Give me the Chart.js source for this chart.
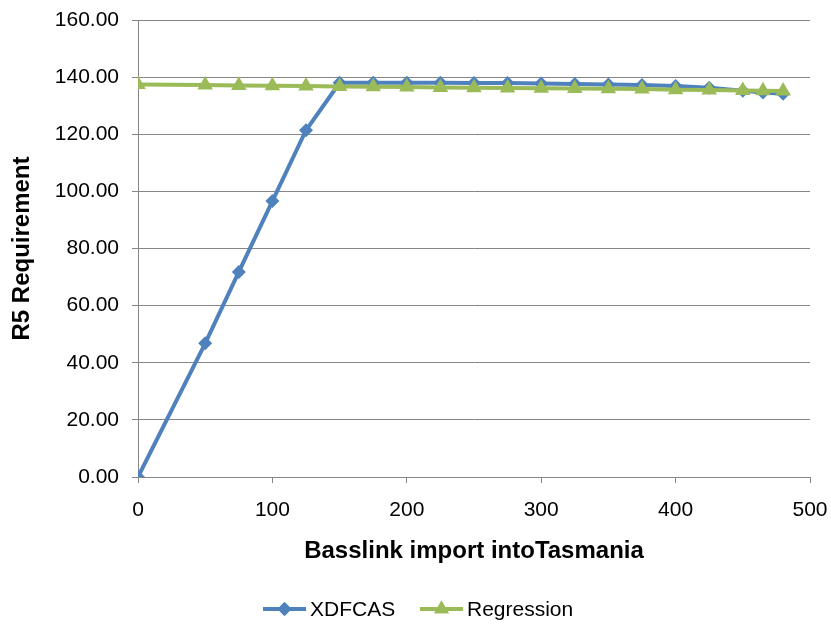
<!DOCTYPE html>
<html>
<head>
<meta charset="utf-8">
<script src="https://cdn.jsdelivr.net/npm/chart.js@4/dist/chart.umd.min.js"></script>
<style>
  html, body { margin: 0; padding: 0; background: #fff; }
  #wrap { width: 831px; height: 624px; }
</style>
</head>
<body>
<div id="wrap"><canvas id="r5Chart" width="831" height="624"></canvas></div>
<script>
// Basslink import (MW) on the x axis
const imports = [0, 50, 75, 100, 125, 150, 175, 200, 225, 250, 275, 300, 325, 350, 375, 400, 425, 450, 465, 480];
const xdfcas = [0, 46.8, 71.8, 96.6, 121.4, 138.0, 138.0, 138.0, 138.0, 137.9, 137.9, 137.8, 137.6, 137.4, 137.2, 136.9, 136.3, 135.2, 134.6, 134.2];
const regression = [137.4, 137.2, 137.1, 137.0, 136.9, 136.7, 136.6, 136.5, 136.4, 136.3, 136.2, 136.1, 136.0, 135.9, 135.8, 135.6, 135.5, 135.3, 135.2, 135.1];
const seriesNames = ['XDFCAS', 'Regression'];

const BLUE = '#4f81bd';
const GREEN = '#9bbb59';
const AXIS = '#868686';
const FONT = "'Liberation Sans', Arial, sans-serif";

function toPoints(ys) {
    return imports.map((x, i) => ({ x: x, y: ys[i] }));
}

// Excel style legend: line sample with marker, then the label
const bottomLegend = {
    id: 'bottomLegend',
    afterDraw(chart) {
        const ctx = chart.ctx;
        const items = [
            { text: seriesNames[0], color: BLUE, style: 'rectRot', r: 7, x: 263 },
            { text: seriesNames[1], color: GREEN, style: 'triangle', r: 8.5, x: 420 }
        ];
        const y = 609;
        ctx.save();
        ctx.font = '21px ' + FONT;
        ctx.textBaseline = 'middle';
        items.forEach(it => {
            ctx.strokeStyle = it.color;
            ctx.lineWidth = 4;
            ctx.beginPath();
            ctx.moveTo(it.x, y);
            ctx.lineTo(it.x + 43, y);
            ctx.stroke();
            ctx.fillStyle = it.color;
            Chart.helpers.drawPoint(ctx, { pointStyle: it.style, radius: it.r, borderWidth: 0 }, it.x + 21.5, y);
            ctx.fill();
            ctx.fillStyle = '#000';
            ctx.fillText(it.text, it.x + 47, y + 1);
        });
        ctx.restore();
    }
};

const ctx = document.getElementById('r5Chart').getContext('2d');
const r5Chart = new Chart(ctx, {
    type: 'line',
    data: {
        datasets: [{
            label: seriesNames[0],
            data: toPoints(xdfcas),
            borderColor: BLUE,
            backgroundColor: BLUE,
            borderWidth: 4,
            pointStyle: 'rectRot',
            pointRadius: 7,
            pointBorderWidth: 0,
            tension: 0,
            order: 1
        }, {
            label: seriesNames[1],
            data: toPoints(regression),
            borderColor: GREEN,
            backgroundColor: GREEN,
            borderWidth: 4,
            pointStyle: 'triangle',
            pointRadius: 9,
            pointBorderWidth: 0,
            tension: 0,
            order: 0
        }]
    },
    options: {
        responsive: false,
        animation: false,
        layout: { padding: { top: 20, right: 21, left: 8, bottom: 58 } },
        plugins: {
            legend: { display: false },
            tooltip: { enabled: false }
        },
        scales: {
            x: {
                type: 'linear',
                min: 0,
                max: 500,
                afterFit: s => { s.height = 89; s.paddingLeft = 0; s.paddingRight = 4; },
                ticks: {
                    stepSize: 100,
                    color: '#000',
                    padding: 15,
                    maxRotation: 0,
                    font: { family: FONT, size: 21 }
                },
                grid: { drawOnChartArea: false, drawTicks: true, tickLength: 6, color: AXIS },
                border: { color: AXIS, width: 1 },
                title: {
                    display: true,
                    text: 'Basslink import intoTasmania',
                    color: '#000',
                    font: { family: FONT, size: 24, weight: 'bold' },
                    padding: { top: 0, bottom: 0 }
                }
            },
            y: {
                min: 0,
                max: 160,
                afterFit: s => { s.width = 130; s.paddingTop = 4; s.paddingBottom = 4; },
                ticks: {
                    stepSize: 20,
                    color: '#000',
                    padding: 13,
                    font: { family: FONT, size: 21 },
                    callback: v => v.toFixed(2)
                },
                grid: { color: AXIS, tickLength: 6 },
                border: { color: AXIS, width: 1 },
                title: {
                    display: true,
                    text: 'R5 Requirement',
                    color: '#000',
                    font: { family: FONT, size: 24, weight: 'bold' },
                    padding: { top: 0, bottom: 0 }
                }
            }
        }
    },
    plugins: [bottomLegend]
});
</script>
</body>
</html>
